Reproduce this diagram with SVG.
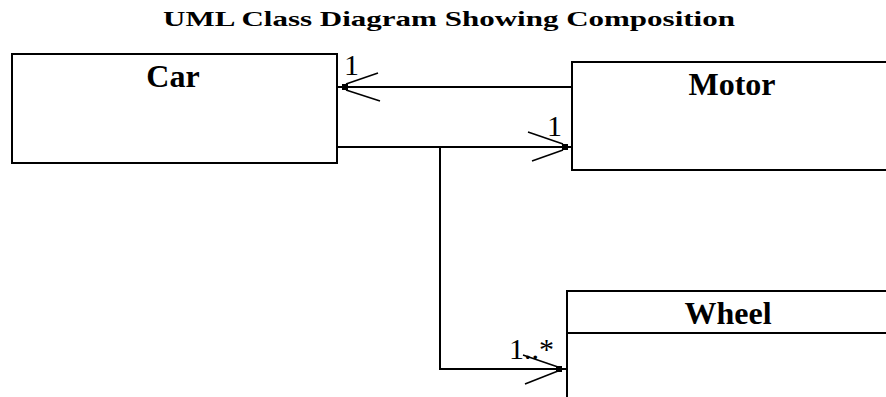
<svg xmlns="http://www.w3.org/2000/svg" width="886" height="397" viewBox="0 0 886 397">
<style>
.box{fill:#fff;stroke:#000;stroke-width:2}
.ln{fill:none;stroke:#000;stroke-width:2}
.ah{fill:none;stroke:#000;stroke-width:1.6}
.nm{font-family:"Liberation Serif","Times New Roman",serif;font-weight:bold;font-size:32px;text-anchor:middle;fill:#000}
.lb{font-family:"Liberation Serif","Times New Roman",serif;font-size:30px;fill:#000}
.ttl{font-family:"Liberation Serif","Times New Roman",serif;font-weight:bold;font-size:22px;fill:#000}
</style>
<rect width="886" height="397" fill="#fff"/>
<text class="ttl" x="163" y="26" textLength="572" lengthAdjust="spacingAndGlyphs">UML Class Diagram Showing Composition</text>
<g id="car">
<rect class="box" x="12" y="54" width="325" height="109"/>
<text class="nm" x="173" y="87">Car</text>
</g>
<g id="motor">
<rect class="box" x="572" y="62" width="330" height="108"/>
<text class="nm" x="732" y="95">Motor</text>
</g>
<g id="wheel">
<rect class="box" x="567" y="291" width="330" height="130"/>
<line class="ln" x1="567" y1="333" x2="886" y2="333"/>
<text class="nm" x="728" y="324">Wheel</text>
</g>
<g id="connectors">
<line class="ln" x1="337" y1="87" x2="572" y2="87"/>
<rect x="342" y="84" width="6" height="6"/>
<polyline class="ah" points="378,73 346,84"/>
<polyline class="ah" points="380,101 346,90"/>
<text class="lb" x="344" y="75">1</text>
<line class="ln" x1="337" y1="147" x2="572" y2="147"/>
<rect x="562" y="144" width="6" height="6"/>
<polyline class="ah" points="528,132 563,144"/>
<polyline class="ah" points="532,161 563,150"/>
<text class="lb" x="547" y="136">1</text>
<polyline class="ln" points="440,147 440,369 567,369"/>
<rect x="556" y="366" width="6" height="6"/>
<polyline class="ah" points="523,355 558,367"/>
<polyline class="ah" points="525,384 558,371"/>
<text class="lb" x="509" y="359">1..*</text>
</g>
</svg>
